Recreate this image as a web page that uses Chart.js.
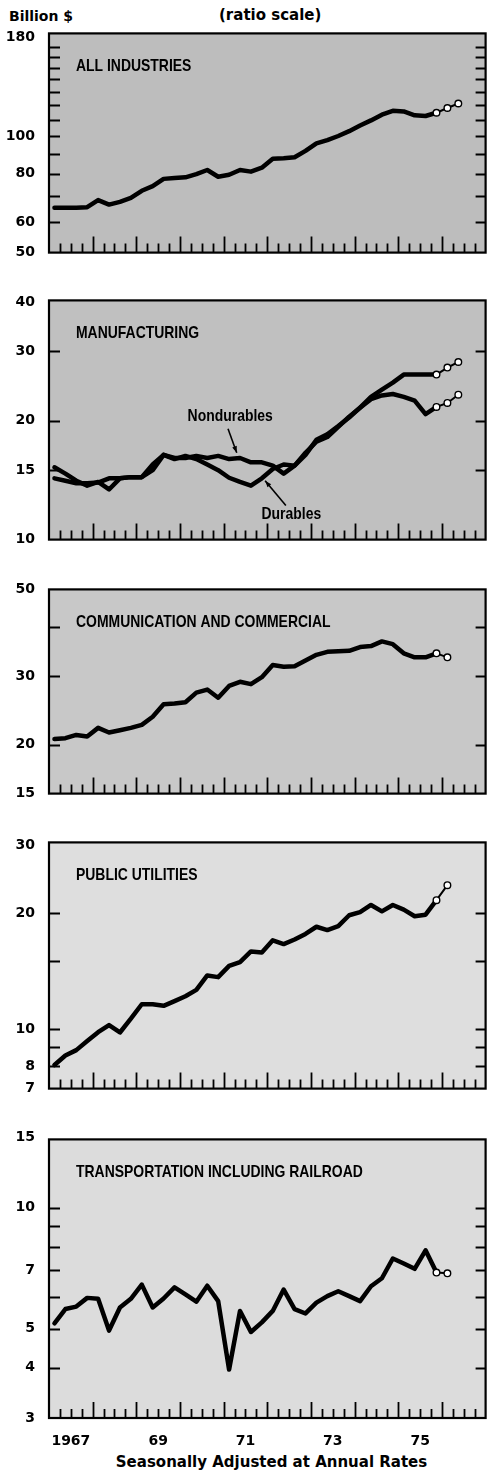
<!DOCTYPE html>
<html>
<head>
<meta charset="utf-8">
<script src="https://cdn.jsdelivr.net/npm/chart.js@4.4.0/dist/chart.umd.min.js"></script>
<style>
  body { margin: 0; background: #fff; width: 491px; height: 1471px; position: relative; overflow: hidden; font-family: "DejaVu Sans", sans-serif; }
  canvas { position: absolute; left: 0; }
  .txt { position: absolute; font-weight: bold; font-size: 14px; line-height: 18px; color: #000; white-space: nowrap; }
</style>
</head>
<body>
<div class="txt" style="left:9px; top:7px;">Billion $</div>
<div class="txt" style="left:219px; top:6px; font-size:15px;">(ratio scale)</div>

<canvas id="c1" width="491" height="248" style="top:19px"></canvas>
<canvas id="c2" width="491" height="268" style="top:286px"></canvas>
<canvas id="c3" width="491" height="233" style="top:575px"></canvas>
<canvas id="c4" width="491" height="275" style="top:828px"></canvas>
<canvas id="c5" width="491" height="323" style="top:1125px"></canvas>

<div class="txt" style="left:0; width:543px; text-align:center; top:1453px; font-size:15px;">Seasonally Adjusted at Annual Rates</div>

<script>
// quarters 1967 Q1 .. 1976 Q4
const years = [1967, 1968, 1969, 1970, 1971, 1972, 1973, 1974, 1975, 1976];
const quarterLabels = years.flatMap(y => ['Q1', 'Q2', 'Q3', 'Q4'].map(q => y + ' ' + q));
const yearTickText = { 1967: '1967', 1969: '69', 1971: '71', 1973: '73', 1975: '75' };
const lastActual = 34; // 1975 Q3, later points are anticipated

// billion $, seasonally adjusted annual rates
const allIndustries = [65.3, 65.3, 65.3, 65.5, 68.3, 66.5, 67.6, 69.2, 72.2, 74.2, 77.5, 77.9, 78.2, 79.7, 81.7, 78.5, 79.4, 81.7, 80.9, 82.8,
  87.3, 87.6, 88.1, 91.5, 95.7, 97.6, 100.0, 102.9, 106.4, 109.7, 113.5, 116.1, 115.7, 113.1, 112.6, 114.8, 118.1, 121.3];
const durables = [15.25, 14.7, 14.1, 13.7, 14.0, 13.4, 14.3, 14.4, 14.4, 15.5, 16.4, 16.0, 16.3, 16.0, 15.5, 15.0, 14.35, 14.0, 13.7, 14.3,
  15.1, 15.5, 15.4, 16.6, 17.7, 18.2, 19.3, 20.5, 21.6, 22.7, 23.2, 23.4, 23.0, 22.5, 20.8, 21.7, 22.2, 23.3];
const nondurables = [14.3, 14.1, 13.9, 13.9, 13.95, 14.3, 14.3, 14.4, 14.4, 15.0, 16.4, 16.1, 16.1, 16.3, 16.1, 16.3, 16.0, 16.1, 15.7, 15.7,
  15.4, 14.7, 15.4, 16.4, 17.9, 18.5, 19.4, 20.4, 21.6, 23.0, 24.0, 25.0, 26.2, 26.2, 26.2, 26.2, 27.3, 28.2];
const communication = [20.7, 20.8, 21.2, 21.0, 22.1, 21.5, 21.8, 22.1, 22.5, 23.6, 25.4, 25.5, 25.7, 27.2, 27.7, 26.4, 28.3, 29.0, 28.6, 29.8,
  32.0, 31.7, 31.8, 32.9, 34.0, 34.6, 34.7, 34.8, 35.6, 35.8, 36.8, 36.2, 34.3, 33.5, 33.5, 34.3, 33.5];
const utilities = [8.06, 8.53, 8.81, 9.30, 9.81, 10.23, 9.79, 10.63, 11.59, 11.59, 11.48, 11.81, 12.16, 12.63, 13.77, 13.63, 14.58, 14.92, 15.89, 15.8,
  16.99, 16.61, 17.07, 17.65, 18.42, 18.06, 18.5, 19.73, 20.11, 20.98, 20.2, 20.98, 20.4, 19.61, 19.8, 21.59, 23.62];
const transportation = [5.16, 5.60, 5.68, 5.97, 5.94, 4.95, 5.65, 5.94, 6.44, 5.65, 5.95, 6.34, 6.09, 5.84, 6.40, 5.86, 3.96, 5.54, 4.91, 5.19,
  5.54, 6.26, 5.60, 5.46, 5.81, 6.03, 6.20, 6.03, 5.86, 6.38, 6.68, 7.48, 7.27, 7.05, 7.84, 6.90, 6.87];

// axis ticks per panel: labelled values and inner tick marks
const ticks1 = [50, 60, 80, 100, 180];
const marks1 = [60, 70, 80, 90, 100, 110, 120, 130, 140, 150, 160, 170];
const ticks2 = [10, 15, 20, 30, 40];
const marks2 = [15, 20, 30];
const ticks3 = [15, 20, 30, 50];
const marks3 = [20, 30, 40];
const ticks4 = [7, 8, 10, 20, 30];
const marks4 = [8, 9, 10, 15, 20];
const ticks5 = [3, 4, 5, 7, 10, 15];
const marks5 = [4, 5, 6, 7, 8, 9, 10];

// label arrows for the manufacturing panel, in data coordinates (quarter index, value)
const manufNotes = [
  { text: 'Nondurables', at: [16.1, 20.5], tail: [15.9, 19.1], tip: [16.7, 16.6] },
  { text: 'Durables', at: [21.7, 11.6], tail: [21.2, 12.2], tip: [19.3, 14.1] }
];

const panels = [
  { id: 'c1', title: 'ALL INDUSTRIES', min: 50, max: 184, ticks: ticks1, marks: marks1, series: [allIndustries], fill: '#bdbdbd' },
  { id: 'c2', title: 'MANUFACTURING', min: 10, max: 40.4, ticks: ticks2, marks: marks2, series: [nondurables, durables], fill: '#c0c0c0', notes: manufNotes },
  { id: 'c3', title: 'COMMUNICATION AND COMMERCIAL', min: 15, max: 50, ticks: ticks3, marks: marks3, series: [communication], fill: '#c8c8c8' },
  { id: 'c4', title: 'PUBLIC UTILITIES', min: 7, max: 30.5, ticks: ticks4, marks: marks4, series: [utilities], fill: '#dedede' },
  { id: 'c5', title: 'TRANSPORTATION INCLUDING RAILROAD', min: 3, max: 14.8, ticks: ticks5, marks: marks5, series: [transportation], fill: '#dcdcdc', years: true }
];

// condensed bold text (no narrow face installed, so squeeze it)
function narrowText(ctx, text, x, y, size, align) {
  ctx.save();
  ctx.font = 'bold ' + size + 'px "Liberation Sans", Arial, sans-serif';
  ctx.textBaseline = 'middle';
  ctx.textAlign = align || 'left';
  ctx.translate(x, y);
  ctx.scale(0.82, 1);
  ctx.fillText(text, 0, 0);
  ctx.restore();
}

// plot background, title, inner tick marks, frame, notes
const panelDecor = {
  id: 'panelDecor',
  beforeDatasetsDraw(chart, args, opts) {
    const { ctx, chartArea: a } = chart;
    const xs = chart.scales.x, ys = chart.scales.y;
    ctx.save();
    ctx.fillStyle = opts.fill;
    ctx.fillRect(a.left, a.top, a.right - a.left, a.bottom - a.top);

    ctx.strokeStyle = '#000';
    ctx.lineWidth = 1.8;
    ctx.beginPath();
    for (let k = 1; k < quarterLabels.length; k++) {
      const x = Math.round(xs.getPixelForValue(k - 0.5)) + 0.5;
      const len = k % 4 === 0 ? 16 : 9;
      ctx.moveTo(x, a.bottom);
      ctx.lineTo(x, a.bottom - len);
    }
    opts.marks.forEach(v => {
      const y = Math.round(ys.getPixelForValue(v)) + 0.5;
      ctx.moveTo(a.left, y);
      ctx.lineTo(a.left + 11, y);
      ctx.moveTo(a.right - 10, y);
      ctx.lineTo(a.right, y);
    });
    ctx.stroke();

    ctx.fillStyle = '#000';
    narrowText(ctx, opts.title, a.left + 27, a.top + 33, 17);
    ctx.restore();
  },
  afterDraw(chart, args, opts) {
    const { ctx, chartArea: a } = chart;
    const xs = chart.scales.x, ys = chart.scales.y;
    ctx.save();
    ctx.strokeStyle = '#000';
    ctx.fillStyle = '#000';
    ctx.lineWidth = 2.2;
    ctx.strokeRect(a.left, a.top, a.right - a.left, a.bottom - a.top);

    (opts.notes || []).forEach(n => {
      const px = p => [xs.getPixelForValue(p[0]), ys.getPixelForValue(p[1])];
      const [tx, ty] = px(n.at);
      narrowText(ctx, n.text, tx, ty, 17, 'center');
      const [x0, y0] = px(n.tail), [x1, y1] = px(n.tip);
      ctx.lineWidth = 1.6;
      ctx.beginPath();
      ctx.moveTo(x0, y0);
      ctx.lineTo(x1, y1);
      ctx.stroke();
      const ang = Math.atan2(y1 - y0, x1 - x0);
      ctx.beginPath();
      ctx.moveTo(x1, y1);
      ctx.lineTo(x1 - 7 * Math.cos(ang - 0.35), y1 - 7 * Math.sin(ang - 0.35));
      ctx.lineTo(x1 - 7 * Math.cos(ang + 0.35), y1 - 7 * Math.sin(ang + 0.35));
      ctx.closePath();
      ctx.fill();
    });
    ctx.restore();
  }
};

Chart.defaults.font.family = '"DejaVu Sans", sans-serif';
Chart.defaults.color = '#000';

panels.forEach(p => {
  new Chart(document.getElementById(p.id), {
    type: 'line',
    data: {
      labels: quarterLabels,
      datasets: p.series.map(s => ({
        data: s,
        borderColor: '#000',
        borderWidth: 4.5,
        tension: 0,
        borderJoinStyle: 'round',
        borderCapStyle: 'round',
        segment: { borderWidth: c => c.p0DataIndex > lastActual ? 2 : 4.5 },
        pointRadius: s.map((v, i) => i > lastActual ? 3.3 : 0),
        pointBackgroundColor: '#fff',
        pointBorderColor: '#000',
        pointBorderWidth: 1.4
      }))
    },
    options: {
      responsive: false,
      animation: false,
      events: [],
      layout: { padding: { top: 10, bottom: p.years ? 2 : 10, left: 0, right: 1 } },
      plugins: {
        legend: { display: false },
        tooltip: { enabled: false },
        panelDecor: { title: p.title, fill: p.fill, marks: p.marks, notes: p.notes }
      },
      scales: {
        x: {
          type: 'category',
          offset: true,
          grid: { display: false },
          border: { display: false },
          ticks: {
            display: !!p.years,
            autoSkip: false,
            maxRotation: 0,
            padding: 7,
            labelOffset: 5.5,
            font: { size: 14, weight: 'bold' },
            callback(v) {
              const lab = this.getLabelForValue(v);
              const [y, q] = lab.split(' ');
              return q === 'Q2' && yearTickText[y] ? yearTickText[y] : '';
            }
          },
          afterFit(s) { s.height = p.years ? 28 : 0; }
        },
        y: {
          type: 'logarithmic',
          min: p.min,
          max: p.max,
          grid: { display: false },
          border: { display: false },
          ticks: { padding: 6, font: { size: 14, weight: 'bold' }, callback: v => String(v) },
          afterBuildTicks(s) { s.ticks = p.ticks.map(v => ({ value: v })); },
          afterFit(s) { s.width = 49; }
        }
      }
    },
    plugins: [panelDecor]
  });
});
</script>
</body>
</html>
